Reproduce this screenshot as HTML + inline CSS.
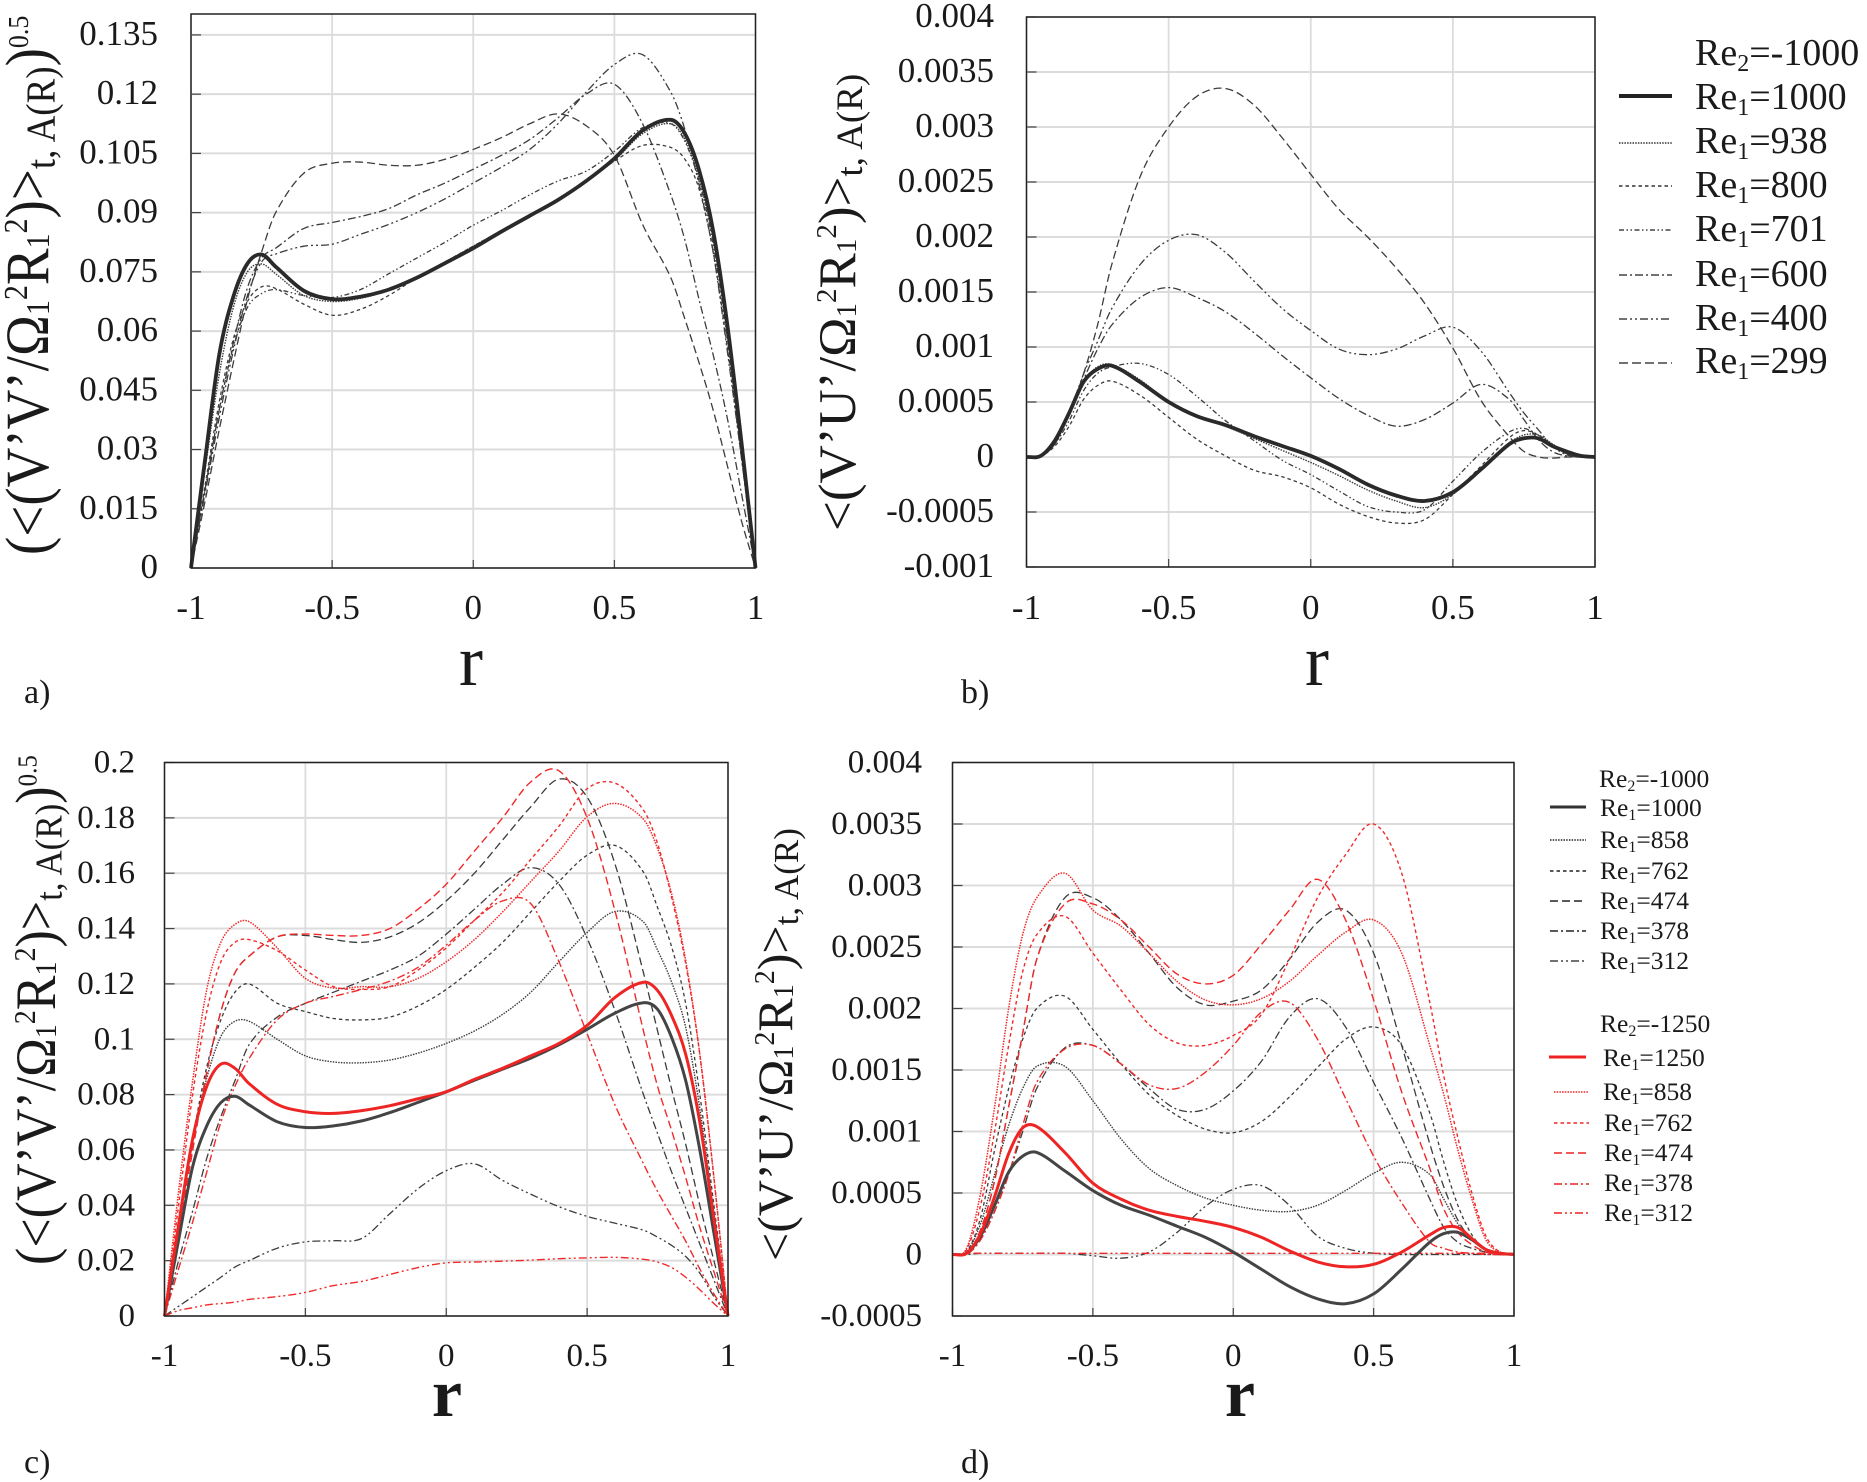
<!DOCTYPE html>
<html lang="en">
<head>
<meta charset="utf-8">
<title>Velocity fluctuation profiles</title>
<style>
html,body{margin:0;padding:0;background:#fff;}
svg{display:block;}
text{font-family:"Liberation Serif","Noto Serif CJK SC",serif;fill:#1a1a1a;}
</style>
</head>
<body>
<svg id="figure" width="1867" height="1482" viewBox="0 0 1867 1482" xmlns="http://www.w3.org/2000/svg">
  <rect width="1867" height="1482" fill="#fff"/>

  <g id="plot-a"></g>
  <g id="plot-b"></g>
  <g id="plot-c"></g>
  <g id="plot-d"></g>

  <text transform="translate(48,555) rotate(-90) scale(1,1.11)" font-size="55">(&lt;(V’V’/Ω<tspan font-size="30" dy="1">1</tspan><tspan font-size="30" dy="-20">2</tspan><tspan dy="19">R</tspan><tspan font-size="30" dy="1">1</tspan><tspan font-size="30" dy="-20">2</tspan><tspan dy="19">)&gt;</tspan><tspan font-size="37" dy="6">t, A(R)</tspan><tspan dy="-6">)</tspan><tspan font-size="26" dy="-18">0.5</tspan></text>
  <text transform="translate(855,531) rotate(-90)" font-size="53">&lt;(V’U’/Ω<tspan font-size="29" dy="1">1</tspan><tspan font-size="29" dy="-20">2</tspan><tspan dy="19">R</tspan><tspan font-size="29" dy="1">1</tspan><tspan font-size="29" dy="-20">2</tspan><tspan dy="19">)&gt;</tspan><tspan font-size="37" dy="7">t, A(R)</tspan></text>
  <text transform="translate(55,1265) rotate(-90) scale(1,1.1)" font-size="52">(&lt;(V’V’/Ω<tspan font-size="28" dy="1">1</tspan><tspan font-size="28" dy="-19">2</tspan><tspan dy="18">R</tspan><tspan font-size="28" dy="1">1</tspan><tspan font-size="28" dy="-19">2</tspan><tspan dy="18">)&gt;</tspan><tspan font-size="35" dy="6">t, A(R)</tspan><tspan dy="-6">)</tspan><tspan font-size="25" dy="-17">0.5</tspan></text>
  <text transform="translate(792,1261) rotate(-90)" font-size="50">&lt;(V’U’/Ω<tspan font-size="28" dy="1">1</tspan><tspan font-size="28" dy="-19">2</tspan><tspan dy="18">R</tspan><tspan font-size="28" dy="1">1</tspan><tspan font-size="28" dy="-19">2</tspan><tspan dy="18">)&gt;</tspan><tspan font-size="35" dy="6">t, A(R)</tspan></text>

  <text x="471" y="685" font-size="72" text-anchor="middle">r</text>
  <text x="1317" y="685" font-size="72" text-anchor="middle">r</text>
  <text x="447" y="1416" font-size="68" font-weight="bold" text-anchor="middle">r</text>
  <text x="1240" y="1416" font-size="68" font-weight="bold" text-anchor="middle">r</text>

  <text x="24" y="703" font-size="34">a)</text>
  <text x="961" y="703" font-size="34">b)</text>
  <text x="24" y="1473" font-size="34">c)</text>
  <text x="961" y="1473" font-size="34">d)</text>

  <g font-size="38">
    <text x="1695" y="65">Re<tspan font-size="24" dy="6">2</tspan><tspan dy="-6">=-1000</tspan></text>
    <g><line x1="1619" x2="1672" y1="96" y2="96" stroke="#222" stroke-width="4"/><text x="1695" y="109">Re<tspan font-size="24" dy="6">1</tspan><tspan dy="-6">=1000</tspan></text></g>
    <g><line x1="1619" x2="1672" y1="143" y2="143" stroke="#333" stroke-width="1.5" stroke-dasharray="1.5 1.2"/><text x="1695" y="153">Re<tspan font-size="24" dy="6">1</tspan><tspan dy="-6">=938</tspan></text></g>
    <g><line x1="1619" x2="1672" y1="186" y2="186" stroke="#333" stroke-width="1.5" stroke-dasharray="3.5 3"/><text x="1695" y="197">Re<tspan font-size="24" dy="6">1</tspan><tspan dy="-6">=800</tspan></text></g>
    <g><line x1="1619" x2="1672" y1="230" y2="230" stroke="#444" stroke-width="1.5" stroke-dasharray="5 2.5 1.5 2.5 1.5 2.5"/><text x="1695" y="241">Re<tspan font-size="24" dy="6">1</tspan><tspan dy="-6">=701</tspan></text></g>
    <g><line x1="1619" x2="1672" y1="275" y2="275" stroke="#444" stroke-width="1.5" stroke-dasharray="8 3 2 3"/><text x="1695" y="286">Re<tspan font-size="24" dy="6">1</tspan><tspan dy="-6">=600</tspan></text></g>
    <g><line x1="1619" x2="1672" y1="319" y2="319" stroke="#444" stroke-width="1.5" stroke-dasharray="8 3 2 3 2 3"/><text x="1695" y="330">Re<tspan font-size="24" dy="6">1</tspan><tspan dy="-6">=400</tspan></text></g>
    <g><line x1="1619" x2="1672" y1="363" y2="363" stroke="#444" stroke-width="1.5" stroke-dasharray="9 4"/><text x="1695" y="373">Re<tspan font-size="24" dy="6">1</tspan><tspan dy="-6">=299</tspan></text></g>
  </g>

  <g font-size="25.5">
    <text x="1599" y="787">Re<tspan font-size="16" dy="4">2</tspan><tspan dy="-4">=-1000</tspan></text>
    <g><line x1="1550" x2="1586" y1="807" y2="807" stroke="#333" stroke-width="3"/><text x="1600" y="816">Re<tspan font-size="16" dy="4">1</tspan><tspan dy="-4">=1000</tspan></text></g>
    <g><line x1="1550" x2="1586" y1="840" y2="840" stroke="#222" stroke-width="1.4" stroke-dasharray="1.5 1.2"/><text x="1600" y="848">Re<tspan font-size="16" dy="4">1</tspan><tspan dy="-4">=858</tspan></text></g>
    <g><line x1="1550" x2="1586" y1="871" y2="871" stroke="#222" stroke-width="1.4" stroke-dasharray="3.5 3"/><text x="1600" y="879">Re<tspan font-size="16" dy="4">1</tspan><tspan dy="-4">=762</tspan></text></g>
    <g><line x1="1550" x2="1586" y1="901" y2="901" stroke="#222" stroke-width="1.4" stroke-dasharray="8 4"/><text x="1600" y="909">Re<tspan font-size="16" dy="4">1</tspan><tspan dy="-4">=474</tspan></text></g>
    <g><line x1="1550" x2="1586" y1="931" y2="931" stroke="#222" stroke-width="1.4" stroke-dasharray="8 3 2 3"/><text x="1600" y="939">Re<tspan font-size="16" dy="4">1</tspan><tspan dy="-4">=378</tspan></text></g>
    <g><line x1="1550" x2="1586" y1="961" y2="961" stroke="#444" stroke-width="1.4" stroke-dasharray="8 3 2 3 2 3"/><text x="1600" y="969">Re<tspan font-size="16" dy="4">1</tspan><tspan dy="-4">=312</tspan></text></g>

    <text x="1600" y="1032">Re<tspan font-size="16" dy="4">2</tspan><tspan dy="-4">=-1250</tspan></text>
    <g><line x1="1549" x2="1586" y1="1057" y2="1057" stroke="#ee2222" stroke-width="3"/><text x="1603" y="1066">Re<tspan font-size="16" dy="4">1</tspan><tspan dy="-4">=1250</tspan></text></g>
    <g><line x1="1554" x2="1589" y1="1092" y2="1092" stroke="#ee2222" stroke-width="1.4" stroke-dasharray="1.5 1.2"/><text x="1603" y="1100">Re<tspan font-size="16" dy="4">1</tspan><tspan dy="-4">=858</tspan></text></g>
    <g><line x1="1554" x2="1589" y1="1123" y2="1123" stroke="#ee2222" stroke-width="1.4" stroke-dasharray="3.5 3"/><text x="1604" y="1131">Re<tspan font-size="16" dy="4">1</tspan><tspan dy="-4">=762</tspan></text></g>
    <g><line x1="1554" x2="1589" y1="1153" y2="1153" stroke="#ee2222" stroke-width="1.4" stroke-dasharray="8 4"/><text x="1604" y="1161">Re<tspan font-size="16" dy="4">1</tspan><tspan dy="-4">=474</tspan></text></g>
    <g><line x1="1554" x2="1589" y1="1184" y2="1184" stroke="#ee2222" stroke-width="1.4" stroke-dasharray="8 3 2 3"/><text x="1604" y="1191">Re<tspan font-size="16" dy="4">1</tspan><tspan dy="-4">=378</tspan></text></g>
    <g><line x1="1554" x2="1589" y1="1213" y2="1213" stroke="#ee2222" stroke-width="1.4" stroke-dasharray="8 3 2 3 2 3"/><text x="1604" y="1221">Re<tspan font-size="16" dy="4">1</tspan><tspan dy="-4">=312</tspan></text></g>
  </g>
</svg>

<script>
const rGrid=[-1,-.95,-.9,-.85,-.8,-.75,-.7,-.6,-.5,-.4,-.3,-.2,-.1,0,.1,.2,.3,.4,.5,.6,.7,.75,.8,.85,.9,.95,1];
const xTickLabels=['-1','-0.5','0','0.5','1'];

const aYTickLabels=['0','0.015','0.03','0.045','0.06','0.075','0.09','0.105','0.12','0.135'];
const bYTickLabels=['-0.001','-0.0005','0','0.0005','0.001','0.0015','0.002','0.0025','0.003','0.0035','0.004'];
const cYTickLabels=['0','0.02','0.04','0.06','0.08','0.1','0.12','0.14','0.16','0.18','0.2'];
const dYTickLabels=['-0.0005','0','0.0005','0.001','0.0015','0.002','0.0025','0.003','0.0035','0.004'];

const aRe938=[0,.025,.049,.066,.075,.077,.0745,.069,.0675,.0683,.0703,.0735,.0775,.0815,.0855,.0895,.0935,.098,.1032,.11,.1125,.1085,.0985,.083,.059,.03,0];
const aRe800=[0,.021,.042,.058,.0675,.0712,.0708,.0668,.064,.0655,.069,.0735,.0775,.0815,.0855,.0895,.0935,.098,.103,.107,.1065,.1035,.096,.08,.056,.028,0];
const aRe701=[0,.02,.04,.056,.066,.0695,.0705,.069,.0685,.0705,.0745,.0785,.0825,.0868,.0905,.0945,.098,.1005,.1055,.1115,.1125,.108,.098,.082,.058,.029,0];
const aRe600=[0,.02,.04,.057,.071,.0785,.081,.086,.0875,.089,.091,.0945,.0975,.101,.1045,.1085,.114,.12,.1225,.1125,.0945,.083,.068,.054,.038,.019,0];
const aRe400=[0,.019,.038,.055,.069,.0775,.0795,.0815,.082,.0845,.087,.09,.0935,.0975,.1015,.106,.1125,.1205,.1275,.13,.1205,.111,.097,.08,.055,.028,0];
const aRe299=[0,.017,.035,.052,.068,.08,.09,.1,.1025,.1028,.102,.102,.1035,.106,.109,.1125,.115,.112,.1045,.087,.0735,.063,.052,.04,.026,.012,0];
const aRe1000=[0,.0275,.054,.0687,.0771,.0794,.0763,.0702,.0681,.0687,.0705,.0735,.0772,.081,.0852,.0892,.0932,.098,.1037,.1108,.1135,.11,.1008,.0854,.0617,.032,0];

const bRe938=[0,.00001,.00015,.0004,.00068,.00082,.00084,.0007,.0005,.00037,.00028,.00017,.00006,-.00005,-.00017,-.0003,-.0004,-.00046,-.00034,-.0001,.00013,.0002,.0002,.00012,.00003,0,0];
const bRe800=[0,.00001,.0001,.00028,.00052,.00065,.00069,.00056,.00036,.00016,.00001,-.00012,-.00018,-.00028,-.00043,-.00054,-.0006,-.00057,-.00034,-.00008,.00018,.00024,.0002,.00011,.00003,0,0];
const bRe701=[0,.00001,.00012,.00033,.0006,.00076,.00082,.00085,.00075,.00055,.00033,.00015,-.00003,-.00016,-.00031,-.00045,-.0005,-.00048,-.00022,.00004,.00023,.00026,.0002,.00011,.00003,0,0];
const bRe600=[0,.00001,.00012,.0004,.0007,.00098,.0012,.00145,.00154,.00145,.00132,.00113,.00092,.00072,.00053,.00038,.00028,.00034,.00049,.00066,.00052,.00034,.00016,.00005,.00001,0,0];
const bRe400=[0,.00001,.00012,.0004,.00075,.00105,.00135,.00175,.00197,.00202,.00186,.0016,.00135,.00115,.00098,.00093,.00098,.0011,.00118,.00096,.00058,.0004,.00025,.0001,.00002,0,0];
const bRe299=[0,.00001,.00012,.0004,.00075,.0012,.00175,.00255,.003,.00328,.00335,.0032,.0029,.00257,.00225,.002,.00172,.0014,.00099,.00051,.00018,.00005,0,-.00001,0,0,0];
const bRe1000=[0,.00001,.00015,.0004,.00068,.0008,.00083,.00068,.0005,.00037,.00029,.00019,.0001,.00001,-.00011,-.00025,-.00035,-.0004,-.00032,-.00011,.00012,.00017,.00017,.0001,.00005,.00001,0];

const cBlack858=[0,.033,.063,.086,.101,.1065,.1065,.1,.094,.0918,.0915,.0925,.095,.0985,.103,.109,.117,.128,.1386,.1462,.1424,.1322,.1206,.1042,.075,.037,0];
const cBlack762=[0,.033,.064,.09,.107,.117,.12,.113,.11,.1075,.107,.108,.112,.118,.126,.135,.146,.157,.1665,.17,.1604,.1476,.1334,.1128,.08,.04,0];
const cBlack474=[0,.03,.06,.088,.11,.124,.13,.137,.1375,.136,.135,.137,.142,.15,.16,.172,.184,.194,.1875,.163,.124,.103,.082,.062,.04,.02,0];
const cBlack378=[0,.02,.038,.057,.072,.085,.098,.108,.113,.117,.121,.125,.13,.138,.147,.156,.162,.156,.1365,.11,.08,.066,.052,.039,.026,.013,0];
const cBlack312=[0,.0035,.007,.0105,.014,.0177,.02,.0245,.0268,.0272,.028,.037,.046,.0525,.055,.049,.044,.0395,.036,.0335,.031,.0285,.0255,.0215,.0155,.007,0];
const cBlack1000=[0,.0275,.054,.0687,.0771,.0794,.0763,.0702,.0681,.0687,.0705,.0735,.0772,.081,.0852,.0892,.0932,.098,.1036,.1095,.1132,.1108,.1006,.085,.06,.03,0];
const cRed858=[0,.045,.085,.118,.135,.1415,.1425,.133,.122,.1185,.119,.119,.122,.128,.136,.146,.157,.168,.1804,.1852,.1795,.1689,.1525,.1284,.0945,.05,0];
const cRed762=[0,.04,.08,.11,.128,.135,.136,.132,.125,.119,.118,.119,.125,.133,.143,.153,.165,.177,.1905,.1925,.1828,.1707,.1512,.1272,.0945,.05,0];
const cRed474=[0,.03,.06,.088,.11,.124,.13,.137,.138,.1375,.1375,.14,.147,.156,.168,.18,.193,.197,.18,.146,.103,.083,.067,.05,.032,.016,0];
const cRed378=[0,.017,.034,.052,.07,.083,.093,.107,.113,.1155,.118,.121,.126,.134,.143,.15,.149,.128,.102,.076,.055,.045,.036,.027,.017,.008,0];
const cRed312=[0,.002,.003,.004,.0045,.005,.006,.007,.0085,.011,.0125,.015,.0175,.0192,.0195,.0198,.0202,.0207,.021,.0212,.0205,.0195,.0175,.014,.0095,.0045,0];
const cRed1250=[0,.033,.064,.083,.091,.0895,.084,.0765,.0738,.0732,.0742,.076,.0785,.081,.0855,.0895,.094,.0985,.105,.1152,.1206,.1176,.1085,.0945,.07,.035,0];

const dBlack858=[0,.00002,.00025,.00065,.00105,.00135,.00153,.00153,.00125,.00094,.0007,.00056,.00046,.0004,.00036,.00035,.0004,.00052,.00066,.00075,.00065,.00045,.00025,.00012,.00004,.00001,0];
const dBlack762=[0,.00002,.0003,.00085,.00135,.00175,.002,.0021,.00183,.00155,.0013,.00113,.00102,.00099,.00108,.00128,.00152,.00175,.00185,.0017,.00115,.00075,.0004,.00016,.00004,.00001,0];
const dBlack474=[0,.00001,.0002,.0006,.0012,.0018,.0024,.0029,.0029,.00272,.00245,.00217,.00203,.00206,.00215,.0024,.0027,.0028,.00245,.0017,.0009,.00055,.00028,.00012,.00004,.00001,0];
const dBlack378=[0,0,.00012,.00035,.00065,.001,.00135,.00168,.0017,.00155,.00135,.00118,.00118,.00133,.00157,.00193,.00208,.00185,.0014,.00095,.00045,.00022,.0001,.00005,.00002,0,0];
const dBlack312=[0,0,.00001,.00001,.00001,.00001,.00001,.00001,-.00001,-.00003,.00002,.00018,.00039,.00053,.00056,.0004,.00015,.00005,.00001,0,0,0,0,0,0,0,0];
const dBlack1000=[0,.00001,.00015,.0004,.00067,.0008,.00083,.00068,.00052,.0004,.00032,.00023,.00014,.00002,-.00012,-.00026,-.00036,-.0004,-.00032,-.00012,.0001,.00017,.00018,.00012,.00004,.00001,0];
const dRed858=[0,.00005,.0005,.0012,.002,.0026,.0029,.0031,.0028,.00267,.00245,.00222,.00207,.00203,.00208,.00222,.00243,.00262,.00272,.00245,.0017,.0013,.00085,.00045,.00012,.00002,0];
const dRed762=[0,.00004,.0004,.001,.0017,.0023,.0026,.00275,.00245,.00215,.00187,.00172,.0017,.00178,.00195,.0024,.0029,.00325,.0035,.0031,.00205,.00145,.00095,.0005,.00015,.00002,0];
const dRed474=[0,.00001,.0002,.0006,.0012,.0018,.0024,.00285,.00285,.00272,.0025,.00228,.0022,.00227,.00252,.0028,.00305,.00272,.00207,.00132,.0007,.00037,.00018,.00008,.00002,0,0];
const dRed378=[0,0,.00012,.00035,.00065,.00105,.0014,.00167,.0017,.00155,.00138,.00135,.00148,.0017,.00197,.00205,.00175,.00127,.0008,.00042,.0001,.00005,.00002,.00001,0,0,0];
const dRed312=[0,.00001,.00001,.00001,.00001,.00001,.00001,.00001,.00001,.00001,.00001,.00001,.00001,.00001,.00001,.00001,.00001,.00001,.00001,.00001,.00001,.00001,.00001,.00001,.00001,0,0];
const dRed1250=[0,.00001,.00017,.00047,.00082,.00103,.00104,.00083,.00058,.00045,.00036,.00031,.00027,.00022,.00014,.00003,-.00006,-.0001,-.00008,.00002,.00016,.00022,.00022,.00013,.00004,.00001,0];

const DOT='1.5 1.2', DASH='3.5 3', LONG='8 4', DD='8 3 2 3', DDD='8 3 2 3 2 3', DDD2='5 2.5 1.5 2.5 1.5 2.5';
const INK='#3c3c3c', RED='#f02a2a';

const panels=[
  {id:'plot-a',key:'panel-a',L:191,R:755.5,T:14,B:568,yMin:0,yMax:.1403,tickRight:158,xTickY:608,labels:aYTickLabels,fs:35,
   series:[['re1-299',aRe299,INK,LONG,1.3],['re1-400',aRe400,INK,DDD,1.3],['re1-600',aRe600,INK,DD,1.3],['re1-701',aRe701,INK,DDD2,1.3],['re1-800',aRe800,INK,DASH,1.3],['re1-938',aRe938,INK,DOT,1.4],['re1-1000',aRe1000,'#2a2a2a',null,3.8]]},
  {id:'plot-b',key:'panel-b',L:1026.5,R:1595,T:17,B:567,yMin:-.001,yMax:.004,tickRight:994,xTickY:608,labels:bYTickLabels,fs:35,
   series:[['re1-299',bRe299,INK,LONG,1.3],['re1-400',bRe400,INK,DDD,1.3],['re1-600',bRe600,INK,DD,1.3],['re1-701',bRe701,INK,DDD2,1.3],['re1-800',bRe800,INK,DASH,1.3],['re1-938',bRe938,INK,DOT,1.4],['re1-1000',bRe1000,'#2a2a2a',null,3.8]]},
  {id:'plot-c',key:'panel-c',L:164.5,R:728,T:762.5,B:1316,yMin:0,yMax:.2,tickRight:135,xTickY:1355,labels:cYTickLabels,fs:33,
   series:[['black-re1-312',cBlack312,INK,DDD,1.3],['black-re1-378',cBlack378,INK,DD,1.3],['black-re1-474',cBlack474,INK,LONG,1.3],['black-re1-762',cBlack762,INK,DASH,1.3],['black-re1-858',cBlack858,INK,DOT,1.4],['red-re1-312',cRed312,RED,DDD,1.4],['red-re1-378',cRed378,RED,DD,1.4],['red-re1-474',cRed474,RED,LONG,1.4],['red-re1-762',cRed762,RED,DASH,1.4],['red-re1-858',cRed858,RED,DOT,1.5],['black-re1-1000',cBlack1000,'#444',null,3],['red-re1-1250',cRed1250,'#ee2525',null,3]]},
  {id:'plot-d',key:'panel-d',L:952.5,R:1514,T:762.5,B:1316,yMin:-.0005,yMax:.004,tickRight:922,xTickY:1355,labels:dYTickLabels,fs:33,
   series:[['black-re1-312',dBlack312,INK,DDD,1.3],['black-re1-378',dBlack378,INK,DD,1.3],['black-re1-474',dBlack474,INK,LONG,1.3],['black-re1-762',dBlack762,INK,DASH,1.3],['black-re1-858',dBlack858,INK,DOT,1.4],['red-re1-312',dRed312,RED,DDD,1.4],['red-re1-378',dRed378,RED,DD,1.4],['red-re1-474',dRed474,RED,LONG,1.4],['red-re1-762',dRed762,RED,DASH,1.4],['red-re1-858',dRed858,RED,DOT,1.5],['black-re1-1000',dBlack1000,'#444',null,3],['red-re1-1250',dRed1250,'#ee2525',null,3]]}
];

const NS='http://www.w3.org/2000/svg';

function smoothPath(xs,ys,sx,sy){
  const n=xs.length,m=[];
  for(let i=0;i<n;i++){
    const a=Math.max(i-1,0),b=Math.min(i+1,n-1);
    m.push((ys[b]-ys[a])/(xs[b]-xs[a]));
  }
  let d='M'+sx(xs[0]).toFixed(2)+' '+sy(ys[0]).toFixed(2);
  for(let i=0;i<n-1;i++){
    const h=xs[i+1]-xs[i];
    const c1x=xs[i]+h/3,c1y=ys[i]+m[i]*h/3,c2x=xs[i+1]-h/3,c2y=ys[i+1]-m[i+1]*h/3;
    d+='C'+sx(c1x).toFixed(2)+' '+sy(c1y).toFixed(2)+' '+sx(c2x).toFixed(2)+' '+sy(c2y).toFixed(2)+' '+sx(xs[i+1]).toFixed(2)+' '+sy(ys[i+1]).toFixed(2);
  }
  return d;
}

panels.forEach(function(p){
  const root=document.getElementById(p.id);
  const sx=function(r){return p.L+(r+1)/2*(p.R-p.L);};
  const sy=function(v){return p.B-(v-p.yMin)/(p.yMax-p.yMin)*(p.B-p.T);};

  p.labels.forEach(function(lab){
    const v=parseFloat(lab),y=sy(v);
    const g=document.createElementNS(NS,'line');
    
    
    g.setAttribute('x1',p.L);g.setAttribute('x2',p.R);g.setAttribute('y1',y);g.setAttribute('y2',y);
    g.setAttribute('stroke','#dcdcdc');g.setAttribute('stroke-width','2');
    root.appendChild(g);
    const tk=document.createElementNS(NS,'line');
    
    
    tk.setAttribute('x1',p.L);tk.setAttribute('x2',p.L+10);tk.setAttribute('y1',y);tk.setAttribute('y2',y);
    tk.setAttribute('stroke','#444');tk.setAttribute('stroke-width','1.2');
    root.appendChild(tk);
    const t=document.createElementNS(NS,'text');
    
    
    t.setAttribute('x',p.tickRight);t.setAttribute('y',y+10);
    t.setAttribute('text-anchor','end');t.setAttribute('font-size',p.fs);
    t.textContent=lab;
    root.appendChild(t);
  });

  xTickLabels.forEach(function(lab){
    const v=parseFloat(lab),x=sx(v);
    const g=document.createElementNS(NS,'line');
    
    
    g.setAttribute('x1',x);g.setAttribute('x2',x);g.setAttribute('y1',p.T);g.setAttribute('y2',p.B);
    g.setAttribute('stroke','#dcdcdc');g.setAttribute('stroke-width','1.8');
    root.appendChild(g);
    const tk=document.createElementNS(NS,'line');
    
    
    tk.setAttribute('x1',x);tk.setAttribute('x2',x);tk.setAttribute('y1',p.B);tk.setAttribute('y2',p.B-8);
    tk.setAttribute('stroke','#444');tk.setAttribute('stroke-width','1.2');
    root.appendChild(tk);
    const t=document.createElementNS(NS,'text');
    
    
    t.setAttribute('x',x);t.setAttribute('y',p.xTickY+11);
    t.setAttribute('text-anchor','middle');t.setAttribute('font-size',p.fs);
    t.textContent=lab;
    root.appendChild(t);
  });

  p.series.forEach(function(s){
    const path=document.createElementNS(NS,'path');
    
    
    path.setAttribute('d',smoothPath(rGrid,s[1],sx,sy));
    path.setAttribute('fill','none');
    path.setAttribute('stroke',s[2]);
    path.setAttribute('stroke-width',s[4]);
    path.setAttribute('stroke-linejoin','round');
    if(s[3]){path.setAttribute('stroke-dasharray',s[3]);}
    root.appendChild(path);
  });

  const frame=document.createElementNS(NS,'rect');
  
  
  frame.setAttribute('x',p.L);frame.setAttribute('y',p.T);
  frame.setAttribute('width',p.R-p.L);frame.setAttribute('height',p.B-p.T);
  frame.setAttribute('fill','none');frame.setAttribute('stroke','#222');frame.setAttribute('stroke-width','1.5');
  root.appendChild(frame);
});
</script>
</body>
</html>
